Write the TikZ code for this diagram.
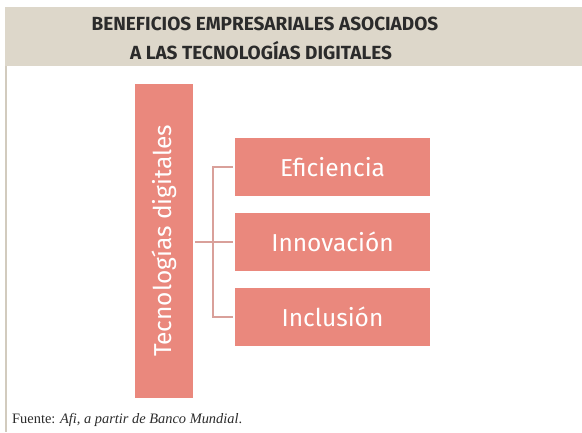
\documentclass[tikz,border=0pt]{standalone}
\usepackage{fontspec}
\usepackage{graphicx}
\setmainfont{Liberation Serif}
\newfontfamily\hfont{Fira Sans}
\definecolor{headbg}{HTML}{DDD7CA}
\definecolor{boxfill}{HTML}{EA887D}
\definecolor{connc}{HTML}{D9A09A}
\definecolor{titlec}{HTML}{2B2B2B}
\definecolor{framec}{HTML}{D2CBBE}
\tikzset{
  titletext/.style={font=\hfont\bfseries\fontsize{19}{22}\selectfont, text=titlec, anchor=base, inner sep=0pt},
  benefit/.style={fill=boxfill, draw=none, minimum width=195pt, minimum height=58pt, inner sep=0pt,
    text=white, font=\hfont\fontsize{24.5}{28}\selectfont},
  mainbox/.style={fill=boxfill, draw=none, minimum width=58pt, minimum height=314pt, inner sep=0pt,
    text=white, font=\hfont\fontsize{24.5}{28}\selectfont},
  conn/.style={draw=connc, line width=1.3pt},
  sourcetext/.style={anchor=base west, inner sep=0pt, font=\fontsize{14.4}{17}\selectfont, text=titlec}
}
\begin{document}
\begin{tikzpicture}[x=1pt,y=-1pt]
\useasboundingbox (0,0) rectangle (582,432);
\fill[headbg] (5,7) rectangle (582,66);
\draw[framec, line width=1.2pt] (6,66) -- (6,432);
\node[titletext] (t1) at (265,30) {BENEFICIOS EMPRESARIALES ASOCIADOS};
\node[titletext] (t2) at (261,59) {A LAS TECNOLOGÍAS DIGITALES};
\node[mainbox] (tec) at (164,241) {\rotatebox{90}{Tecnologías digitales}};
\node[benefit] (e1) at (332.5,167) {Eficiencia};
\node[benefit] (e2) at (332.5,242) {Innovación};
\node[benefit] (e3) at (332.5,317) {Inclusión};
\coordinate (j) at (213,242);
\draw[conn, shorten <=2pt, shorten >=2pt] (tec.east |- e2.west) -- (e2.west);
\draw[conn, shorten >=2pt, shorten <=2pt] (e1.west) -- (e1.west -| j) -- (e3.west -| j) -- (e3.west);
\node[sourcetext] (src) at (12,423) {Fuente: \textit{Afi, a partir de Banco Mundial}.};
\end{tikzpicture}
\end{document}
